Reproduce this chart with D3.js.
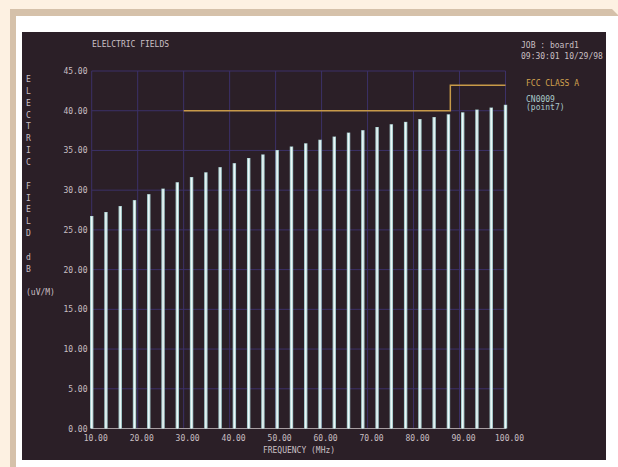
<!DOCTYPE html>
<html>
<head>
<meta charset="utf-8">
<script src="https://cdn.jsdelivr.net/npm/d3@7"></script>
<style>
  html, body { margin: 0; padding: 0; background: #fdf1e2; }
  svg { display: block; }
  text { font-family: "DejaVu Sans Mono", "Liberation Mono", monospace; font-size: 8px; }
</style>
</head>
<body>
<svg id="chart" width="618" height="467"></svg>
<script>
// Measured frequencies (MHz) of each scan point
const frequencies = [10.00, 13.10, 16.21, 19.31, 22.41, 25.52, 28.62, 31.72, 34.83, 37.93,
                     41.03, 44.14, 47.24, 50.34, 53.45, 56.55, 59.66, 62.76, 65.86, 68.97,
                     72.07, 75.17, 78.28, 81.38, 84.48, 87.59, 90.69, 93.79, 96.90, 100.00];
// Field strength of CN0009 (point7), dB(uV/M)
const fieldValues = [26.75, 27.25, 28.0, 28.75, 29.5, 30.2, 31.0, 31.65, 32.25, 32.9,
                     33.4, 34.05, 34.5, 35.05, 35.5, 35.9, 36.35, 36.75, 37.25, 37.55,
                     37.95, 38.3, 38.6, 38.95, 39.2, 39.55, 39.8, 40.15, 40.4, 40.75];
// FCC class A limit line (step at 88 MHz)
const limitFreq = [30, 88, 88, 100];
const limitLevel = [40, 40, 43.2, 43.2];
// Tick values
const xTicks = [10, 20, 30, 40, 50, 60, 70, 80, 90, 100];
const yTicks = [0, 5, 10, 15, 20, 25, 30, 35, 40, 45];
// Vertical axis title, one entry per row
const yTitleRows = ["E","L","E","C","T","R","I","C","","F","I","E","L","D","","d","B","","(uV/M)"];
const titleText = "ELELCTRIC FIELDS";
const jobText = "JOB : board1";
const stampText = "09:30:01 10/29/98";
const legendLimit = "FCC CLASS A";
const legendSeries = ["CN0009", "(point7)"];
const xTitle = "FREQUENCY (MHz)";

const svg = d3.select("#chart");

// Page frame: shadow, white card, dark screen
svg.append("path")
  .attr("d", "M10,9 L612,9 L618,15 L618,467 L10,467 Z")
  .attr("fill", "#d5c1aa");
svg.append("rect").attr("x", 16).attr("y", 16).attr("width", 602).attr("height", 451).attr("fill", "#ffffff");
svg.append("rect").attr("x", 22).attr("y", 32).attr("width", 584).attr("height", 428).attr("fill", "#2b1f27");

const x = d3.scaleLinear().domain([10, 100]).range([91.7, 505.5]);
const y = d3.scaleLinear().domain([0, 45]).range([428.5, 71]);

const gridColor = "#3c3168";
const textColor = "#c9bfc3";

// Grid
const g = svg.append("g");
g.selectAll("line.v").data(xTicks).join("line")
  .attr("x1", d => x(d)).attr("x2", d => x(d))
  .attr("y1", y(45)).attr("y2", y(0))
  .attr("stroke", gridColor).attr("stroke-width", 1);
g.selectAll("line.h").data(yTicks.filter(d => d > 0)).join("line")
  .attr("x1", x(10)).attr("x2", x(100))
  .attr("y1", d => y(d)).attr("y2", d => y(d))
  .attr("stroke", gridColor).attr("stroke-width", 1);
// Baseline
g.append("line")
  .attr("x1", x(10)).attr("x2", x(100))
  .attr("y1", y(0)).attr("y2", y(0))
  .attr("stroke", "#a79ea2").attr("stroke-width", 1.2);

// Bars
const data = frequencies.map((f, i) => ({ f, v: fieldValues[i] }));
const bars = svg.append("g");
bars.selectAll("rect.outer").data(data).join("rect")
  .attr("x", d => x(d.f) - 1.7).attr("width", 3.4)
  .attr("y", d => y(d.v)).attr("height", d => y(0) - y(d.v))
  .attr("fill", "#a6cccd");
bars.selectAll("rect.inner").data(data).join("rect")
  .attr("x", d => x(d.f) - 0.7).attr("width", 1.4)
  .attr("y", d => y(d.v) + 0.5).attr("height", d => y(0) - y(d.v) - 0.5)
  .attr("fill", "#eef8f8");

// Limit line
const limitLine = d3.line().x(d => x(d[0])).y(d => y(d[1]));
svg.append("path")
  .datum(limitFreq.map((f, i) => [f, limitLevel[i]]))
  .attr("d", limitLine)
  .attr("fill", "none")
  .attr("stroke", "#c89a48").attr("stroke-width", 1.5);

// Tick labels
svg.append("g").selectAll("text").data(yTicks).join("text")
  .attr("x", 87.5).attr("y", d => y(d) + 3)
  .attr("text-anchor", "end").attr("fill", textColor)
  .text(d => d.toFixed(2));
svg.append("g").selectAll("text").data(xTicks).join("text")
  .attr("x", d => x(d) + 4).attr("y", 440.5)
  .attr("text-anchor", "middle").attr("fill", textColor)
  .text(d => d.toFixed(2));

// Titles
svg.append("text").attr("x", 299).attr("y", 453).attr("text-anchor", "middle")
  .attr("fill", textColor).text(xTitle);
svg.append("g").selectAll("text").data(yTitleRows).join("text")
  .attr("x", 26).attr("y", (d, i) => 82 + i * 11.85)
  .attr("fill", textColor).text(d => d);
svg.append("text").attr("x", 92).attr("y", 47).attr("fill", textColor).text(titleText);
svg.append("text").attr("x", 521).attr("y", 47.5).attr("fill", textColor).text(jobText);
svg.append("text").attr("x", 521).attr("y", 58.5).attr("fill", textColor).text(stampText);

// Legend
svg.append("text").attr("x", 526).attr("y", 86).attr("fill", "#d2a24e").text(legendLimit);
svg.append("g").selectAll("text").data(legendSeries).join("text")
  .attr("x", 526).attr("y", (d, i) => 102 + i * 7.7)
  .attr("fill", "#a9c9c9").text(d => d);
</script>
</body>
</html>
